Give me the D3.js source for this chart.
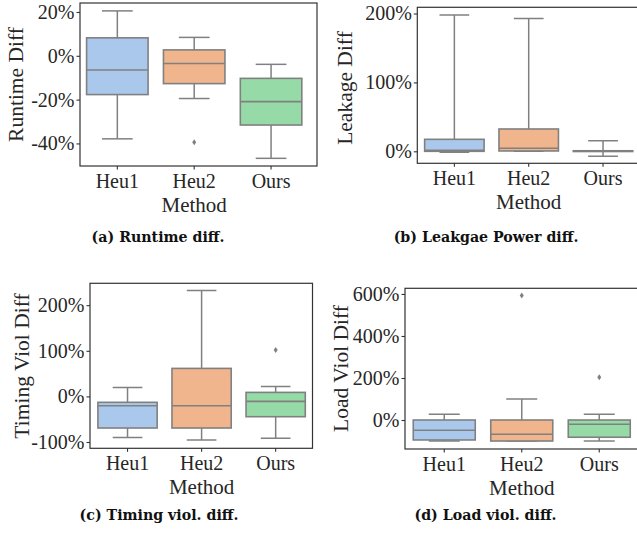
<!DOCTYPE html>
<html>
<head>
<meta charset="utf-8">
<script src="https://cdn.jsdelivr.net/npm/d3@7/dist/d3.min.js"></script>
<style>
  html, body { margin: 0; padding: 0; background: #fff; }
  svg { display: block; }
</style>
</head>
<body>
<svg id="chart" width="637" height="533"></svg>
<script>
// ---------------- DATA ----------------
const methods = ["Heu1", "Heu2", "Ours"];
const colors = ["#aac8ec", "#f1b58e", "#96dba7"];

// stats per method: [lowerWhisker, Q1, median, Q3, upperWhisker] (in %)
const runtimeStats = [[-37.9, -17.7, -6.5, 8.2, 20.5], [-19.5, -12.7, -3.5, 2.7, 8.4], [-46.8, -31.6, -20.9, -10.3, -3.9]];
const runtimeOutliers = [[], [-39.5], []];
const runtimeTicks = [20, 0, -20, -40];

const leakageStats = [[-1.5, 0, 1.5, 17.4, 198], [0, 0.5, 4.4, 32.4, 192.7], [-7, -0.3, 0.3, 0.8, 15.5]];
const leakageOutliers = [[], [], []];
const leakageTicks = [0, 100, 200];

const timingStats = [[-90, -69.3, -20.4, -13, 19.7], [-95.6, -69.3, -20.4, 61.4, 232], [-92, -44.5, -11, 8.8, 21.9]];
const timingOutliers = [[], [], [101.8]];
const timingTicks = [-100, 0, 100, 200];

const loadStats = [[-100, -95, -49, 0, 27], [-100, -100, -68, 0, 100], [-100, -82, -20, 0, 27]];
const loadOutliers = [[], [593], [203]];
const loadTicks = [0, 200, 400, 600];

const yLabels = ["Runtime Diff", "Leakage Diff", "Timing Viol Diff", "Load Viol Diff"];
const captions = ["(a) Runtime diff.", "(b) Leakgae Power diff.", "(c) Timing viol. diff.", "(d) Load viol. diff."];
const xLabel = "Method";

// ---------------- LAYOUT ----------------
const panels = [
  { stats: runtimeStats, outliers: runtimeOutliers, ticks: runtimeTicks, domain: [-50.3, 24.1],
    x0: 80, x1: 317, bandRange: [78.9, 309.5], y0: 3, y1: 166, ylx: 23, yly: 84.5, capX: 158, capY: 242 },
  { stats: leakageStats, outliers: leakageOutliers, ticks: leakageTicks, domain: [-17.4, 209],
    x0: 417.3, x1: 640, bandRange: [417.2, 640.2], y0: 7.3, y1: 163.3, ylx: 352, yly: 88, capX: 486, capY: 242 },
  { stats: timingStats, outliers: timingOutliers, ticks: timingTicks, domain: [-113.8, 248],
    x0: 90, x1: 312.5, bandRange: [90.5, 312.7], y0: 283.3, y1: 448.3, ylx: 28.5, yly: 366, capX: 159, capY: 520 },
  { stats: loadStats, outliers: loadOutliers, ticks: loadTicks, domain: [-138, 627],
    x0: 405, x1: 640, bandRange: [405.5, 638], y0: 288.3, y1: 449, ylx: 348, yly: 368.5, capX: 485.5, capY: 520 }
];

const svg = d3.select("#chart");
const lineGray = "#808080";
const spineColor = "#333333";
const textColor = "#262626";
const serif = "'Liberation Serif', 'Times New Roman', serif";
const capFont = "'DejaVu Serif', serif";

panels.forEach((p, pi) => {
  const g = svg.append("g");
  const x = d3.scaleBand().domain(methods).range(p.bandRange).paddingInner(0).paddingOuter(0);
  const y = d3.scaleLinear().domain(p.domain).range([p.y1, p.y0]);
  const bw = x.bandwidth() * 0.8;

  const clipId = "clip" + pi;
  svg.append("clipPath").attr("id", clipId).append("rect")
    .attr("x", p.x0).attr("y", p.y0).attr("width", p.x1 - p.x0).attr("height", p.y1 - p.y0);

  const plot = g.append("g").attr("clip-path", `url(#${clipId})`);

  methods.forEach((m, i) => {
    const [lo, q1, med, q3, hi] = p.stats[i];
    const cx = x(m) + x.bandwidth() / 2;
    const bx = cx - bw / 2;
    const capW = bw / 2;
    plot.append("line").attr("x1", cx).attr("x2", cx).attr("y1", y(q3)).attr("y2", y(hi))
      .attr("stroke", lineGray).attr("stroke-width", 1.5);
    plot.append("line").attr("x1", cx).attr("x2", cx).attr("y1", y(q1)).attr("y2", y(lo))
      .attr("stroke", lineGray).attr("stroke-width", 1.5);
    plot.append("line").attr("x1", cx - capW / 2).attr("x2", cx + capW / 2).attr("y1", y(hi)).attr("y2", y(hi))
      .attr("stroke", lineGray).attr("stroke-width", 1.5);
    plot.append("line").attr("x1", cx - capW / 2).attr("x2", cx + capW / 2).attr("y1", y(lo)).attr("y2", y(lo))
      .attr("stroke", lineGray).attr("stroke-width", 1.5);
    plot.append("rect").attr("x", bx).attr("width", bw)
      .attr("y", y(q3)).attr("height", Math.max(0.5, y(q1) - y(q3)))
      .attr("fill", colors[i]).attr("stroke", lineGray).attr("stroke-width", 1.6);
    plot.append("line").attr("x1", bx).attr("x2", bx + bw).attr("y1", y(med)).attr("y2", y(med))
      .attr("stroke", lineGray).attr("stroke-width", 1.6);
    p.outliers[i].forEach(v => {
      const oy = y(v);
      plot.append("path")
        .attr("d", `M${cx},${oy - 3} L${cx + 2},${oy} L${cx},${oy + 3} L${cx - 2},${oy} Z`)
        .attr("fill", lineGray).attr("stroke", "none");
    });
  });

  g.append("rect").attr("x", p.x0).attr("y", p.y0).attr("width", p.x1 - p.x0).attr("height", p.y1 - p.y0)
    .attr("fill", "none").attr("stroke", spineColor).attr("stroke-width", 1.2);

  const yAxis = d3.axisLeft(y).tickValues(p.ticks).tickFormat(d => d + "%").tickSize(3.5).tickPadding(2);
  const ya = g.append("g").attr("transform", `translate(${p.x0},0)`).call(yAxis);
  ya.select(".domain").remove();
  ya.selectAll(".tick line").attr("stroke", spineColor).attr("stroke-width", 1.1);
  ya.selectAll(".tick text").attr("font-family", serif).attr("font-size", 20).attr("fill", textColor);

  const xAxis = d3.axisBottom(x).tickSize(3.5).tickPadding(4);
  const xa = g.append("g").attr("transform", `translate(0,${p.y1})`).call(xAxis);
  xa.select(".domain").remove();
  xa.selectAll(".tick line").attr("stroke", spineColor).attr("stroke-width", 1.1);
  xa.selectAll(".tick text").attr("font-family", serif).attr("font-size", 20).attr("fill", textColor);

  g.append("text").attr("x", (p.bandRange[0] + p.bandRange[1]) / 2).attr("y", p.y1 + 46)
    .attr("text-anchor", "middle").attr("font-family", serif).attr("font-size", 21).attr("fill", textColor)
    .text(xLabel);

  g.append("text").attr("transform", `translate(${p.ylx},${p.yly}) rotate(-90)`)
    .attr("text-anchor", "middle").attr("font-family", serif).attr("font-size", 21.5).attr("fill", textColor)
    .text(yLabels[pi]);

  svg.append("text").attr("x", p.capX).attr("y", p.capY).attr("text-anchor", "middle")
    .attr("font-family", capFont).attr("font-weight", "bold").attr("font-size", 14.2).attr("fill", "#111")
    .text(captions[pi]);
});
</script>
</body>
</html>
